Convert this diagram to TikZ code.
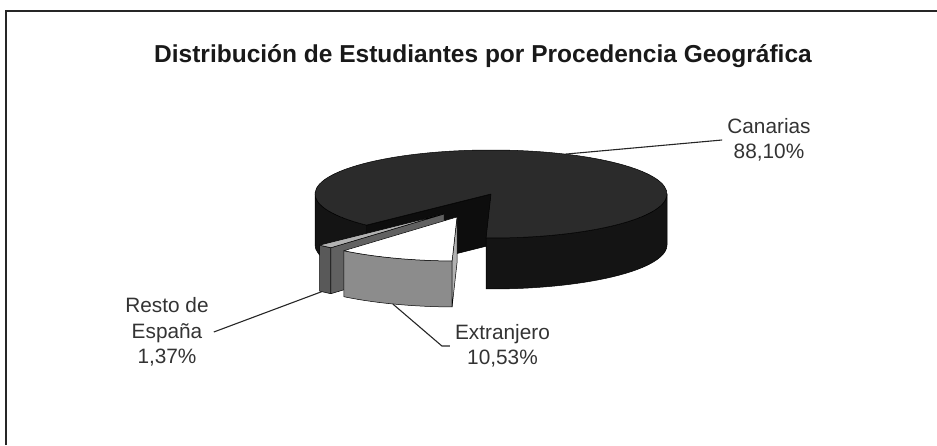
\documentclass[tikz,border=0pt]{standalone}
\usepackage{fontspec}
\setmainfont{Liberation Sans}
\begin{document}
\begin{tikzpicture}[x=1pt,y=1pt,
  frameline/.style={line width=2pt,draw=black!85},
  edge/.style={draw=black,line width=0.5pt,line join=round},
  leader/.style={draw=black!85,line width=1.1pt},
  lbl/.style={align=center,inner sep=5pt,font=\fontsize{20.8}{25.5}\selectfont,text=black!80},
  ttl/.style={font=\fontsize{24.5}{29}\selectfont\bfseries,text=black!90},
  ell/.style={x radius=176pt,y radius=44pt}]
\useasboundingbox (0,0) rectangle (937,445);
% frame
\coordinate (f1) at (6,0);
\coordinate (f2) at (6,434);
\coordinate (f3) at (937,434);
\draw[frameline] (f1) -- (f2) -- (f3);
% title
\node[ttl] (title) at (483,389) {Distribución de Estudiantes por Procedencia Geográfica};
% ---------- Canarias ----------
\coordinate (C) at (491,251);
\coordinate (Cb) at (491,200);
% cut face at 225 deg
\filldraw[edge,fill=black!95] (C) -- ++(225:176pt and 44pt) -- ++(0,-51) -- (Cb) -- cycle;
% left outer side
\filldraw[edge,fill=black!92] (C) ++(180:176pt and 44pt)
  arc[ell,start angle=180,end angle=225] -- ++(0,-51)
  arc[ell,start angle=225,end angle=180] -- cycle;
% front outer side
\filldraw[edge,fill=black!92] (C) ++(268.4:176pt and 44pt)
  arc[ell,start angle=268.4,end angle=360] -- ++(0,-51)
  arc[ell,start angle=360,end angle=268.4] -- cycle;
% top face
\filldraw[edge,fill=black!83] (C) -- ++(268.4:176pt and 44pt)
  arc[ell,start angle=268.4,end angle=585] -- cycle;
% ---------- Resto de Espana ----------
\coordinate (R) at (444,231);
\coordinate (Rb) at (444,185);
\filldraw[edge,fill=black!65] (R) ++(225:176pt and 44pt)
  arc[ell,start angle=225,end angle=230] -- ++(0,-46)
  arc[ell,start angle=230,end angle=225] -- cycle;
\filldraw[edge,fill=black!62] (R) -- ++(230:176pt and 44pt) -- ++(0,-46) -- (Rb) -- cycle;
\filldraw[edge,fill=black!30] (R) -- ++(225:176pt and 44pt)
  arc[ell,start angle=225,end angle=230] -- cycle;
% ---------- Extranjero ----------
\coordinate (E) at (457,228);
\coordinate (Eb) at (457,182);
\filldraw[edge,fill=black!45] (E) ++(230:176pt and 44pt)
  arc[ell,start angle=230,end angle=268.4] -- ++(0,-46)
  arc[ell,start angle=268.4,end angle=230] -- cycle;
\filldraw[edge,fill=black!30] (E) -- ++(268.4:176pt and 44pt) -- ++(0,-46) -- (Eb) -- cycle;
\filldraw[edge,fill=white] (E) -- ++(230:176pt and 44pt)
  arc[ell,start angle=230,end angle=268.4] -- cycle;
% ---------- labels ----------
\node[lbl] (lcan) at (769,305) {Canarias\\88,10\%};
\node[lbl] (lres) at (167,113) {Resto de\\España\\1,37\%};
\node[lbl] (lext) at (502.5,99) {Extranjero\\10,53\%};
% ---------- leaders ----------
\path (C) ++(65:176pt and 44pt) coordinate (pcan);
\path (R) ++(226:176pt and 44pt) ++(0,-46) coordinate (pres);
\path (E) ++(248.6:176pt and 44pt) ++(0,-46) coordinate (pext);
\draw[leader] (pcan) -- (lcan.west);
\draw[leader] (pres) -- (lres.east);
\draw[leader] (pext) -- ([xshift=-8pt]lext.west) -- (lext.west);
\end{tikzpicture}
\end{document}
